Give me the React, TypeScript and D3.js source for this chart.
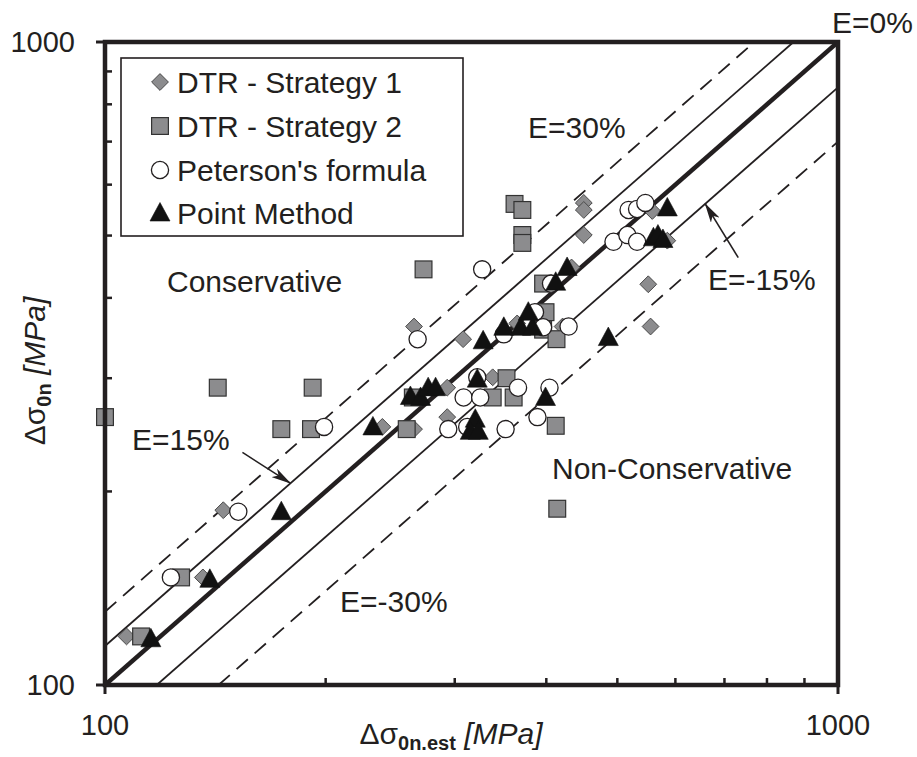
import React from 'react';
import * as d3 from 'd3';

const W = 917;
const H = 757;

// DTR - Strategy 1 (diamonds): [estimated stress, experimental stress] in MPa
const dtrStrategy1: [number, number][] = [
  [107, 119], [136, 147], [145, 187], [239, 252], [264, 250], [264, 361],
  [308, 345], [293, 290], [293, 261], [338, 301], [365, 365], [421, 361],
  [433, 446], [450, 562], [450, 548], [450, 501], [558, 546], [585, 491],
  [551, 420], [555, 361],
];

// DTR - Strategy 2 (squares)
const dtrStrategy2: [number, number][] = [
  [112, 119], [127, 147], [100, 261], [142.5, 290], [192, 290], [174, 250],
  [191, 250], [258, 250], [263, 280], [272, 443], [362, 560], [371, 548],
  [371, 501], [371, 487], [353, 300], [338, 280], [361, 280], [412, 253],
  [414, 188], [396, 421], [399, 380], [396, 357], [413, 345],
];

// Peterson's formula (open circles)
const peterson: [number, number][] = [
  [123, 147], [152, 186], [199, 252], [267, 345], [327, 443], [308.5, 280],
  [325, 280], [366, 290], [404, 290], [294, 250], [312, 252], [352, 250],
  [389, 261], [322, 301], [350, 351], [386, 380], [396, 360], [429, 361],
  [406, 421], [518, 548], [532, 550], [546, 562], [494, 489], [516, 501],
  [532, 489],
];

// Point Method (filled triangles)
const pointMethod: [number, number][] = [
  [115.5, 118], [139, 146], [174, 186], [232, 252], [261, 281], [269.5, 280],
  [276, 290], [282.5, 290], [322, 299], [320, 259], [315, 248], [323, 248],
  [399, 280], [328, 343], [350, 360], [369, 360], [383, 360], [378, 380],
  [412, 423], [427, 446], [486, 347], [585, 552], [560, 496], [568, 501],
  [577, 493],
];

const seriesNames = ['DTR - Strategy 1', 'DTR - Strategy 2', "Peterson's formula", 'Point Method'];
const seriesShapes = ['diamond', 'square', 'circle', 'triangle'];

const majorTicks = [100, 1000];
const minorTicks = [200, 300, 400, 500, 600, 700, 800, 900];

// error bands: y = factor * x
const errorFactors = [1, 1.15, 0.85, 1.3, 0.7];
const errorKinds = ['main', 'solid', 'solid', 'dashed', 'dashed'];

// annotation arrows in data units: [tailX, tailY, tipX, tipY]
const arrows15: [number, number, number, number] = [154, 230, 179, 206];
const arrowsMinus15: [number, number, number, number] = [731, 462, 659, 560];

const FONT = 'Arial, "Liberation Sans", Helvetica, sans-serif';
const INK = '#231f20';
const GRAY = '#8c8c8e';

function Marker({ shape, cx, cy }: { shape: string; cx: number; cy: number }) {
  if (shape === 'diamond') {
    const r = 8.4;
    return (
      <path
        d={`M${cx},${cy - r}L${cx + r},${cy}L${cx},${cy + r}L${cx - r},${cy}Z`}
        fill={GRAY}
        stroke="#4a4a4a"
        strokeWidth={1}
      />
    );
  }
  if (shape === 'square') {
    const s = 16.8;
    return <rect x={cx - s / 2} y={cy - s / 2} width={s} height={s} fill={GRAY} stroke="#333" strokeWidth={1.2} />;
  }
  if (shape === 'circle') {
    return <circle cx={cx} cy={cy} r={8.6} fill="#fff" stroke={INK} strokeWidth={1.3} />;
  }
  const hw = 10;
  return (
    <path
      d={`M${cx},${cy - 10.5}L${cx + hw},${cy + 8}L${cx - hw},${cy + 8}Z`}
      fill="#111"
      stroke="#111"
      strokeWidth={0.6}
    />
  );
}

export default function App() {
  const x = d3.scaleLog().domain([100, 1000]).range([105, 838]);
  const y = d3.scaleLog().domain([100, 1000]).range([685, 42]);
  const line = d3
    .line<[number, number]>()
    .x((d) => x(d[0]))
    .y((d) => y(d[1]));

  const bandPath = (f: number) => {
    const x0 = Math.max(100, 100 / f);
    const x1 = Math.min(1000, 1000 / f);
    return line([
      [x0, x0 * f],
      [x1, x1 * f],
    ]) as string;
  };

  const allSeries = [dtrStrategy1, dtrStrategy2, peterson, pointMethod];

  const [x0, x1] = x.range();
  const [yb, yt] = y.range();

  const legendRows = [82, 126, 170, 213];

  return (
    <svg
      width={W}
      height={H}
      viewBox={`0 0 ${W} ${H}`}
      style={{ position: 'absolute', left: 0, top: 0, background: '#fff' }}
      fontFamily={FONT}
    >
      <defs>
        <marker id="arrowHead" viewBox="0 0 20 10" refX="19" refY="5" markerWidth="20" markerHeight="10" markerUnits="userSpaceOnUse" orient="auto">
          <path d="M0,0L20,5L0,10L5,5Z" fill={INK} />
        </marker>
        <clipPath id="plotClip">
          <rect x={x0} y={yt} width={x1 - x0} height={yb - yt} />
        </clipPath>
      </defs>
      <rect x={0} y={0} width={W} height={H} fill="#fff" />

      {/* error lines */}
      <g clipPath="url(#plotClip)">
        {errorFactors.map((f, i) => (
          <path
            key={i}
            d={bandPath(f)}
            fill="none"
            stroke={INK}
            strokeWidth={errorKinds[i] === 'main' ? 4.5 : 1.8}
            strokeDasharray={errorKinds[i] === 'dashed' ? '15 9' : undefined}
          />
        ))}
      </g>

      {/* arrows */}
      {[arrows15, arrowsMinus15].map((a, i) => (
        <line
          key={i}
          x1={x(a[0])}
          y1={y(a[1])}
          x2={x(a[2])}
          y2={y(a[3])}
          stroke={INK}
          strokeWidth={1.6}
          markerEnd="url(#arrowHead)"
        />
      ))}

      {/* data markers */}
      {allSeries.map((s, si) => (
        <g key={si}>
          {s.map((d, i) => (
            <Marker key={i} shape={seriesShapes[si]} cx={x(d[0])} cy={y(d[1])} />
          ))}
        </g>
      ))}

      {/* minor ticks (inside) */}
      {minorTicks.map((t) => (
        <g key={t}>
          <line x1={x(t)} x2={x(t)} y1={yb} y2={yb - 7} stroke={INK} strokeWidth={2.5} />
          <line x1={x0} x2={x0 + 7} y1={y(t)} y2={y(t)} stroke={INK} strokeWidth={2.5} />
        </g>
      ))}
      {/* major ticks (outside) */}
      {majorTicks.map((t) => (
        <g key={t}>
          <line x1={x(t)} x2={x(t)} y1={yb} y2={yb + 9} stroke={INK} strokeWidth={3} />
          <line x1={x0 - 9} x2={x0} y1={y(t)} y2={y(t)} stroke={INK} strokeWidth={3} />
        </g>
      ))}

      {/* frame */}
      <rect x={x0} y={yt} width={x1 - x0} height={yb - yt} fill="none" stroke={INK} strokeWidth={4.5} />

      {/* tick labels */}
      {majorTicks.map((t) => (
        <g key={`l${t}`} fontSize={29} fill={INK}>
          <text x={x(t)} y={yb + 50} textAnchor="middle">
            {t}
          </text>
          <text x={75} y={y(t) + 10} textAnchor="end">
            {t}
          </text>
        </g>
      ))}

      {/* axis titles */}
      <text x={451} y={744} textAnchor="middle" fontSize={30} fill={INK}>
        <tspan>Δσ</tspan>
        <tspan fontSize={20} fontWeight="bold" dy={6}>
          0n.est
        </tspan>
        <tspan dy={-6} fontStyle="italic">
          {' [MPa]'}
        </tspan>
      </text>
      <text transform="translate(45,371) rotate(-90)" textAnchor="middle" fontSize={30} fill={INK}>
        <tspan>Δσ</tspan>
        <tspan fontSize={20} fontWeight="bold" dy={6}>
          0n
        </tspan>
        <tspan dy={-6} fontStyle="italic">
          {' [MPa]'}
        </tspan>
      </text>

      {/* region & band labels */}
      <g fontSize={30} fill={INK}>
        <text x={832} y={33}>E=0%</text>
        <text x={528} y={138}>E=30%</text>
        <text x={167} y={292}>Conservative</text>
        <text x={708} y={290}>E=-15%</text>
        <text x={132} y={450}>E=15%</text>
        <text x={552} y={479}>Non-Conservative</text>
        <text x={340} y={612}>E=-30%</text>
      </g>

      {/* legend */}
      <rect x={121} y={58} width={342} height={178} fill="#fff" stroke={INK} strokeWidth={1.6} />
      {seriesNames.map((n, i) => (
        <g key={n}>
          <Marker shape={seriesShapes[i]} cx={160} cy={legendRows[i]} />
          <text x={177} y={legendRows[i] + 10.5} fontSize={30} fill={INK}>
            {n}
          </text>
        </g>
      ))}
    </svg>
  );
}
